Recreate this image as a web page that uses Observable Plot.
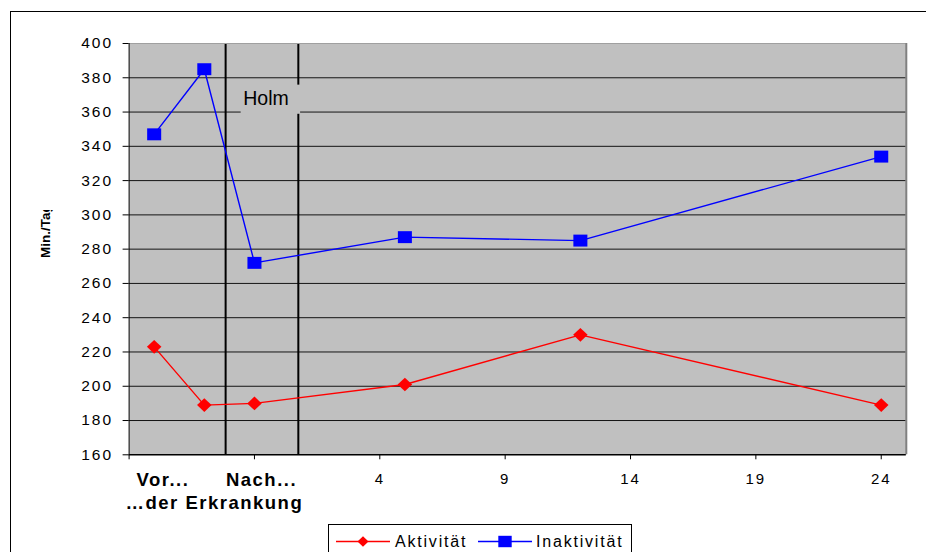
<!DOCTYPE html>
<html>
<head>
<meta charset="utf-8">
<script src="https://cdn.jsdelivr.net/npm/d3@7"></script>
<script src="https://cdn.jsdelivr.net/npm/@observablehq/plot@0.6"></script>
<style>
  body { margin: 0; background: #fff; font-family: "Liberation Sans", Arial, sans-serif; }
  #wrap { position: relative; width: 926px; height: 552px; overflow: hidden; background: #fff; }
  #frame { position: absolute; left: 10px; top: 11px; width: 930px; height: 560px; border-left: 1px solid #000; border-top: 1px solid #000; }
  #chart { position: absolute; left: 0; top: 0; }
  #legend { position: absolute; left: 328px; top: 524px; width: 302px; height: 40px; border: 1px solid #000; background: #fff; }
  #ylab { position: absolute; left: 36px; top: 210px; overflow: hidden; }
  #chart g[aria-label="y-axis tick label"] text { letter-spacing: 2px; }
  #chart g[aria-label="x-axis tick label"] text { letter-spacing: 2px; }
  .phase { letter-spacing: 1.5px; }
</style>
</head>
<body>
<div id="wrap">
  <div id="frame"></div>
  <div id="chart"></div>
  <svg id="ylab" width="20" height="51"></svg>
  <div id="legend"></div>
</div>
<script>
// ---- data ----
const months = [-5, -3, -1, 5, 12, 24];
const aktivitaet = [223, 189, 190, 201, 230, 189];
const inaktivitaet = [347, 385, 272, 287, 285, 334];
const seriesNames = ["Aktivität", "Inaktivität"];
const seriesColors = ["#ff0000", "#0000ff"];
const yTicks = [160, 180, 200, 220, 240, 260, 280, 300, 320, 340, 360, 380, 400];
const xTicks = [-6, -1, 4, 9, 14, 19, 24];
const xTickLabels = ["", "", "4", "9", "14", "19", "24"];
const phaseLabels = ["Vor...", "Nach..."];
const phaseCaption = "…der Erkrankung";
const boundaries = [-2.15, 0.75];
const annotation = "Holm";
const yLabel = "Min./Tag";

// ---- derived tables ----
const rowsA = months.map((m, i) => ({month: m, value: aktivitaet[i]}));
const rowsI = months.map((m, i) => ({month: m, value: inaktivitaet[i]}));
const xLabelMap = new Map(xTicks.map((t, i) => [t, xTickLabels[i]]));
const phaseRows = [
  {x: -4.65, y: 145.3, text: phaseLabels[0]},
  {x: -0.72, y: 145.3, text: phaseLabels[1]},
  {x: -2.6, y: 131.6, text: phaseCaption}
];

// custom symbols
const diamondSym = {draw(ctx, size) { const s = Math.sqrt(size); const hw = s * 0.5, hh = s * 0.47;
  ctx.moveTo(0, -hh); ctx.lineTo(hw, 0); ctx.lineTo(0, hh); ctx.lineTo(-hw, 0); ctx.closePath(); }};
const rectSym = {draw(ctx, size) { const s = Math.sqrt(size); const hw = s * 0.54, hh = s * 0.46;
  ctx.rect(-hw, -hh, 2 * hw, 2 * hh); }};

const chart = Plot.plot({
  width: 926,
  height: 552,
  marginLeft: 128.6,
  marginRight: 20.2,
  marginTop: 43,
  marginBottom: 97.7,
  x: {type: "linear", domain: [-6, 25]},
  y: {type: "linear", domain: [160, 400]},
  style: {fontFamily: "'Liberation Sans', Arial, sans-serif", fontSize: "15px", color: "#000", background: "none", overflow: "visible"},
  marks: [
    Plot.frame({fill: "#c0c0c0", stroke: null}),
    Plot.ruleY(yTicks.slice(1, -1), {stroke: "#000", strokeWidth: 1, strokeOpacity: 0.9}),
    Plot.ruleX(boundaries, {stroke: "#000", strokeWidth: 2}),
    Plot.rect([0], {x1: -1.53, x2: 0.84, y1: 358.7, y2: 375.7, fill: "#c0c0c0"}),
    Plot.text([annotation], {x: -0.54, y: 367.6, text: d => d, fontSize: 19.5, fill: "#000"}),
    Plot.ruleY([400], {stroke: "#a0a0a0", strokeWidth: 1}),
    Plot.ruleX([25], {stroke: "#808080", strokeWidth: 2}),
    Plot.axisY({ticks: yTicks, tickSize: 6, tickPadding: 10, fontSize: 15.5, label: null, tickFormat: d => String(d)}),
    Plot.axisX({ticks: xTicks, tickSize: 5, tickPadding: 14, fontSize: 15, label: null, tickFormat: d => xLabelMap.get(d)}),
    Plot.ruleX([-6], {stroke: "#000", strokeWidth: 1}),
    Plot.ruleY([160], {stroke: "#000", strokeWidth: 1.5}),
    Plot.text(phaseRows, {x: "x", y: "y", text: "text", fontSize: 18.5, fontWeight: "bold", fill: "#000", className: "phase", clip: false}),
    Plot.line(rowsI, {x: "month", y: "value", stroke: seriesColors[1], strokeWidth: 1.4}),
    Plot.line(rowsA, {x: "month", y: "value", stroke: seriesColors[0], strokeWidth: 1.4}),
    Plot.dot(rowsI, {x: "month", y: "value", symbol: rectSym, r: 7.33, fill: seriesColors[1], stroke: null}),
    Plot.dot(rowsA, {x: "month", y: "value", symbol: diamondSym, r: 8.2, fill: seriesColors[0], stroke: null})
  ]
});
document.getElementById("chart").appendChild(chart);

// y-axis title (clipped as in the original)
const ylab = d3.select("#ylab");
ylab.append("text")
  .attr("transform", "translate(14,48) rotate(-90)")
  .attr("font-size", 13.5)
  .attr("font-weight", "bold")
  .attr("font-family", "'Liberation Sans', Arial, sans-serif")
  .attr("fill", "#000")
  .text(yLabel);

// legend
const lg = d3.select("#legend").append("svg").attr("width", 302).attr("height", 30)
  .attr("font-family", "'Liberation Sans', Arial, sans-serif");
const legendItems = [
  {x0: 7, x1: 61, cx: 34, tx: 66, sym: diamondSym, r: 6.2},
  {x0: 149, x1: 203, cx: 176, tx: 207, sym: rectSym, r: 7.0}
];
legendItems.forEach((it, i) => {
  lg.append("line").attr("x1", it.x0).attr("x2", it.x1).attr("y1", 16.5).attr("y2", 16.5)
    .attr("stroke", seriesColors[i]).attr("stroke-width", 1.4);
  lg.append("path").attr("transform", `translate(${it.cx},16.5)`)
    .attr("d", d3.symbol(it.sym, it.r * it.r * Math.PI)()).attr("fill", seriesColors[i]);
  lg.append("text").attr("x", it.tx).attr("y", 21.5).attr("font-size", 16)
    .attr("letter-spacing", "1.8px").attr("fill", "#000").text(seriesNames[i]);
});
</script>
</body>
</html>
